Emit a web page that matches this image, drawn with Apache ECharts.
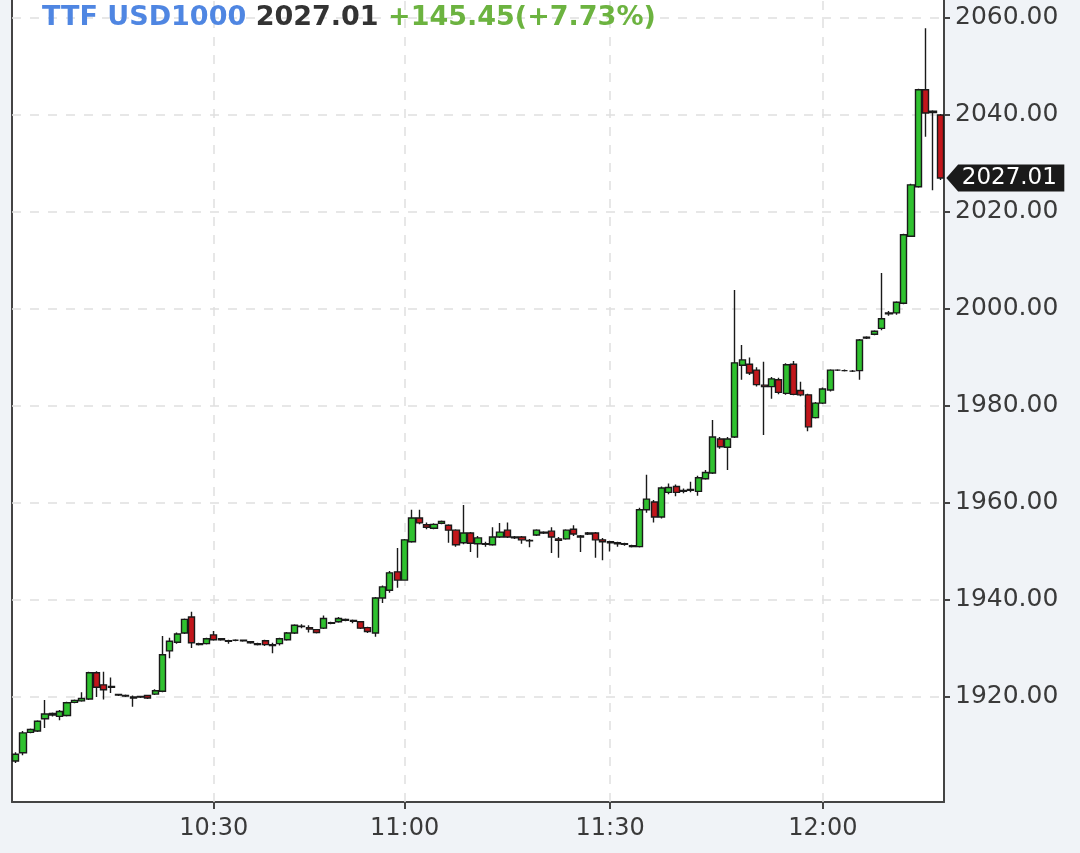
<!DOCTYPE html>
<html>
<head>
<meta charset="utf-8">
<script src="https://cdn.jsdelivr.net/npm/echarts@6/dist/echarts.min.js"></script>
<style>
  html, body { margin: 0; padding: 0; background: #f0f3f7; }
  #chart { width: 1080px; height: 853px; }
</style>
</head>
<body>
<div id="chart"></div>
<script>
// ---- data ----
const symbolName = 'TTF USD1000';
const prevClose = 1881.56;
const times = [
  '10:03','10:04','10:05','10:06','10:07','10:08','10:09','10:10','10:11','10:12',
  '10:13','10:14','10:15','10:16','10:17','10:18','10:19','10:20','10:21','10:22',
  '10:23','10:24','10:25','10:26','10:27','10:28','10:29','10:30','10:31','10:32',
  '10:33','10:35','10:36','10:37','10:38','10:40','10:41','10:42','10:43','10:44',
  '10:46','10:47','10:48','10:49','10:50','10:51','10:52','10:53','10:54','10:55',
  '10:56','10:57','10:58','11:00','11:01','11:02','11:03','11:04','11:05','11:06',
  '11:07','11:08','11:09','11:10','11:11','11:12','11:13','11:14','11:15','11:16',
  '11:18','11:19','11:20','11:21','11:22','11:23','11:24','11:25','11:26','11:27',
  '11:28','11:30','11:31','11:32','11:33','11:34','11:35','11:36','11:37','11:38',
  '11:39','11:40','11:41','11:42','11:43','11:44','11:45','11:46','11:47','11:48',
  '11:49','11:50','11:51','11:52','11:53','11:54','11:55','11:56','11:57','11:58',
  '12:00','12:01','12:02','12:03','12:04','12:05','12:06','12:07','12:08','12:09',
  '12:10','12:11','12:12','12:13','12:14','12:15','12:16'
];
// [open, close, low, high]
const ohlc = [
  [1906.8,1908.2,1906.4,1908.6],[1908.5,1912.6,1908,1913],[1912.7,1913.3,1912.5,1913.5],[1913,1915,1912.8,1915.2],[1915.5,1916.5,1913.6,1919.4],
  [1916.3,1916.6,1916,1916.8],[1916,1917,1915.2,1917.3],[1916.2,1918.8,1916,1919],[1918.9,1919.3,1918.7,1919.5],[1919.2,1919.7,1919,1921],
  [1919.6,1925,1919.4,1925.2],[1925,1922,1920,1925.3],[1922.5,1921.5,1919.5,1925.2],[1922,1922.2,1920.8,1924],[1920.4,1920.5,1920.2,1920.6],
  [1920.3,1920.2,1920,1920.5],[1920,1919.8,1918,1920.3],[1920,1920.1,1919.8,1920.2],[1920.3,1919.8,1919.6,1920.4],[1920.6,1921.3,1920.4,1921.6],
  [1921.2,1928.7,1921,1932.6],[1929.5,1931.5,1928,1932.2],[1931.3,1933,1931,1933.3],[1933.2,1936,1933,1936.2],[1936.5,1931.2,1930.1,1937.6],
  [1931,1930.8,1930.6,1931.2],[1931,1932,1930.8,1932.2],[1932.8,1931.8,1931.6,1933.6],[1932,1931.8,1931.6,1932.1],[1931.6,1931.5,1931,1931.8],
  [1931.7,1931.7,1931.5,1931.9],[1931.7,1931.6,1931.4,1931.8],[1931.4,1931.2,1931,1931.5],[1931,1930.8,1930.6,1931.2],[1931.6,1930.8,1930.5,1931.8],
  [1930.6,1930.8,1929,1931.2],[1931,1932,1930.6,1932.2],[1931.8,1933.2,1931.6,1933.4],[1933.2,1934.8,1933,1935],[1934.6,1934.5,1934.2,1935],
  [1934.3,1934,1933.3,1934.8],[1933.9,1933.3,1933.1,1934],[1934.2,1936.2,1934,1936.8],[1935.2,1935.3,1935,1935.5],[1935.5,1936.2,1935.3,1936.5],
  [1936,1935.8,1935.6,1936.2],[1935.8,1935.6,1935.2,1936],[1935.5,1934.2,1934,1935.6],[1934.3,1933.5,1933.2,1934.5],[1933.2,1940.4,1932.4,1940.6],
  [1940.4,1942.7,1939.4,1943],[1942,1945.6,1941.5,1946],[1945.8,1944.1,1942.5,1950.7],[1944.1,1952.4,1944,1952.6],[1952,1956.9,1951.8,1958.6],
  [1956.9,1955.9,1955.6,1958.6],[1955.5,1955,1954.6,1956],[1954.8,1955.6,1954.6,1955.8],[1955.8,1956.2,1955.6,1956.4],[1955.4,1954.4,1951.8,1955.6],
  [1954.4,1951.4,1951,1954.6],[1951.8,1953.8,1951.5,1959.6],[1953.8,1951.7,1949.9,1954],[1951.6,1952.8,1948.7,1953.2],[1951.6,1951.5,1951,1952],
  [1951.4,1953,1951.2,1955],[1953,1954,1952.8,1955.9],[1954.4,1953,1952.8,1956],[1953,1952.8,1952.6,1953.2],[1953,1952.4,1951.6,1953.2],
  [1952.3,1952.2,1950.9,1952.6],[1953.4,1954.4,1953.2,1954.6],[1954,1953.8,1953.6,1954.2],[1954.2,1953,1949.7,1955],[1952.6,1952.3,1948.7,1953],
  [1952.6,1954.4,1952.4,1954.6],[1954.6,1953.6,1953.2,1955.4],[1953.2,1953,1949.9,1953.4],[1953.6,1953.8,1953.4,1954],[1953.8,1952.4,1948.7,1954],
  [1952.4,1952,1948.2,1952.8],[1952,1951.8,1950,1952.2],[1951.8,1951.6,1951,1952],[1951.6,1951.5,1951.2,1951.8],[1951.2,1951,1950.8,1951.4],
  [1951,1958.6,1950.8,1959],[1958.6,1960.8,1958,1965.8],[1960.2,1957.1,1956,1960.6],[1957.1,1963.1,1956.8,1963.4],[1962.2,1963.2,1961.8,1964],
  [1963.4,1962.2,1961.4,1963.8],[1962.4,1962.6,1962,1963],[1962.8,1962.6,1962.2,1964.4],[1962.4,1965.2,1961.5,1965.6],[1965,1966.3,1964.8,1966.8],
  [1966.2,1973.6,1966,1977.1],[1973.2,1971.6,1971.2,1973.6],[1971.5,1973.2,1966.8,1973.6],[1973.6,1988.9,1973.4,2003.9],[1988.4,1989.5,1985.4,1992.6],
  [1988.6,1986.8,1986.4,1990],[1987.4,1984.4,1984,1988],[1984.3,1984,1974,1989.1],[1984,1985.6,1981.5,1986],[1985.4,1982.8,1982.4,1985.8],
  [1982.6,1988.5,1982.3,1988.8],[1988.6,1982.4,1982.2,1989.3],[1983.2,1982.3,1982,1985],[1982.3,1975.7,1974.8,1982.5],[1977.6,1980.6,1977.4,1980.8],
  [1980.6,1983.5,1980.4,1983.8],[1983.3,1987.4,1983,1987.6],[1987.4,1987.4,1987.2,1987.6],[1987.3,1987.3,1987.1,1987.5],[1987.2,1987.2,1987,1987.4],
  [1987.3,1993.6,1985.4,1993.8],[1994,1994.2,1993.8,1994.4],[1994.8,1995.4,1994.6,1995.6],[1996,1998,1995.6,2007.4],[1999,1999.2,1998.6,1999.6],
  [1999.2,2001.4,1998.8,2001.6],[2001.2,2015.3,2001,2015.5],[2015,2025.6,2015,2025.8],[2025.2,2045.2,2025,2045.4],[2045.2,2040.4,2035.5,2057.9],
  [2040.8,2040.5,2024.5,2041],[2040,2027.01,2026.6,2040.2]
];
const xTickLabels = ['10:30', '11:00', '11:30', '12:00'];
const yTicks = [1920, 1940, 1960, 1980, 2000, 2020, 2040, 2060];
const yMin = 1898.35, yMax = 2063.71;

// ---- derived ----
const lastTime = times[times.length - 1];
const lastClose = ohlc[ohlc.length - 1][1];
const change = lastClose - prevClose;
const changePct = change / prevClose * 100;
const isLabel = (idx, val) => xTickLabels.indexOf(val) >= 0;

const gridLines = [];
xTickLabels.forEach(t => gridLines.push({ xAxis: t }));
yTicks.forEach(v => gridLines.push({ yAxis: v }));

const FONT = 'DejaVu Sans';
const chart = echarts.init(document.getElementById('chart'), null, { renderer: 'canvas' });
chart.setOption({
  animation: false,
  backgroundColor: '#f0f3f7',
  title: {
    left: 42, top: 1, padding: 0,
    text: '{a|' + symbolName + '} {b|' + lastClose.toFixed(2) + '} {c|' +
      (change >= 0 ? '+' : '') + change.toFixed(2) + '(' + (change >= 0 ? '+' : '') + changePct.toFixed(2) + '%)}',
    textStyle: {
      fontFamily: FONT, fontSize: 27, fontWeight: 'bold', lineHeight: 33,
      rich: {
        a: { color: '#4f86e2', fontFamily: FONT, fontSize: 27, fontWeight: 'bold' },
        b: { color: '#333333', fontFamily: FONT, fontSize: 27, fontWeight: 'bold' },
        c: { color: '#6cb340', fontFamily: FONT, fontSize: 27, fontWeight: 'bold' }
      }
    }
  },
  grid: {
    left: 12, right: 136, top: 0, bottom: 51,
    show: true, backgroundColor: '#ffffff', borderWidth: 0
  },
  xAxis: {
    type: 'category',
    data: times,
    boundaryGap: true,
    axisLine: { lineStyle: { color: '#444', width: 2 } },
    axisTick: { show: true, interval: isLabel, alignWithLabel: true, length: 7, lineStyle: { color: '#444', width: 2 } },
    axisLabel: { interval: isLabel, fontFamily: FONT, fontSize: 24, color: '#3a3a3a', margin: 15 },
    splitLine: { show: false }
  },
  yAxis: [{
    type: 'value',
    position: 'right',
    min: yMin, max: yMax,
    axisLine: { show: true, lineStyle: { color: '#444', width: 2 } },
    axisTick: { show: true, customValues: yTicks, length: 6, lineStyle: { color: '#444', width: 2 } },
    axisLabel: { customValues: yTicks, fontFamily: FONT, fontSize: 25, color: '#3a3a3a', margin: 11,
      formatter: v => v.toFixed(2) },
    splitLine: { show: false }
  }, {
    type: 'value',
    position: 'left',
    min: yMin, max: yMax,
    axisLine: { show: true, lineStyle: { color: '#444', width: 2 } },
    axisTick: { show: false },
    axisLabel: { show: false },
    splitLine: { show: false }
  }],
  series: [{
    type: 'candlestick',
    data: ohlc,
    yAxisIndex: 0,
    barWidth: '90%',
    itemStyle: {
      color: '#2fc12f', color0: '#c2161b',
      borderColor: '#1a1a1a', borderColor0: '#1a1a1a', borderWidth: 1.4
    },
    markLine: {
      silent: true, z: 1, symbol: ['none', 'none'],
      label: { show: false },
      lineStyle: { type: [9, 9], color: '#e0e0e0', width: 1.5 },
      emphasis: { disabled: true },
      data: gridLines
    },
    markPoint: {
      silent: true, z: 10,
      symbol: 'path://M0,13 L12,0 L120,0 L120,26 L12,26 Z',
      symbolSize: [118, 27],
      symbolOffset: [65, 0],
      itemStyle: { color: '#1a1a1a' },
      label: { show: true, color: '#ffffff', fontFamily: FONT, fontSize: 23, offset: [4, 0],
        formatter: p => Number(p.value).toFixed(2) },
      data: [{ coord: [lastTime, lastClose], value: lastClose }]
    }
  }]
});
</script>
</body>
</html>
